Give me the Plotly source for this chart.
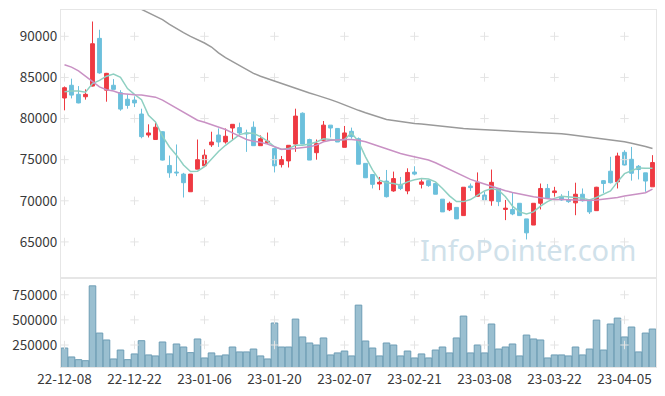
import plotly.graph_objects as go

dates = ["22-12-08","22-12-09","22-12-12","22-12-13","22-12-14","22-12-15","22-12-16","22-12-19","22-12-20","22-12-21",
         "22-12-22","22-12-23","22-12-26","22-12-27","22-12-28","22-12-29","23-01-02","23-01-03","23-01-04","23-01-05",
         "23-01-06","23-01-09","23-01-10","23-01-11","23-01-12","23-01-13","23-01-16","23-01-17","23-01-18","23-01-19",
         "23-01-20","23-01-25","23-01-26","23-01-27","23-01-30","23-01-31","23-02-01","23-02-02","23-02-03","23-02-06",
         "23-02-07","23-02-08","23-02-09","23-02-10","23-02-13","23-02-14","23-02-15","23-02-16","23-02-17","23-02-20",
         "23-02-21","23-02-22","23-02-23","23-02-24","23-02-27","23-02-28","23-03-02","23-03-03","23-03-06","23-03-07",
         "23-03-08","23-03-09","23-03-10","23-03-13","23-03-14","23-03-15","23-03-16","23-03-17","23-03-20","23-03-21",
         "23-03-22","23-03-23","23-03-24","23-03-27","23-03-28","23-03-29","23-03-30","23-03-31","23-04-03","23-04-04",
         "23-04-05","23-04-06","23-04-07","23-04-10","23-04-11"]

open_ = [82500,84050,82950,82650,83950,89750,83450,84050,83150,82350,
         82250,80550,78000,77450,78400,74300,73500,73250,71100,73850,
         74250,76800,78000,77150,78850,78900,78250,78950,76700,77050,
         76350,74400,74850,76900,80650,77450,75850,77350,79200,78800,
         76500,78450,77550,74550,73200,72050,72400,71200,72000,71200,
         73500,72000,72450,72100,70200,68900,69200,68200,71800,70550,
         70700,70000,71500,68950,68950,69700,67800,67050,69700,71500,
         71000,70500,70150,69750,70800,70150,68800,72450,73600,72300,
         75900,75050,74200,73400,71700]
high_ = [83900,84850,83950,83550,91800,90800,85550,84800,83450,82950,
         82700,81200,79300,79550,78450,75500,76850,73400,73250,77450,
         76250,78400,78800,78800,79300,79500,78650,79650,77950,78300,
         76350,75450,76750,81200,80750,77550,77450,79700,79200,78800,
         79100,78900,77700,74550,73200,72900,73750,73550,72900,73950,
         74200,72600,72500,72100,70200,69900,69200,71650,72100,73450,
         71100,73800,71500,70100,71000,69700,67800,69700,72100,72050,
         71700,70800,71200,72200,71500,70150,71700,72500,75350,75850,
         76150,76550,74350,73400,75550]
low_ = [81000,82450,81850,82300,83900,85450,82050,83550,80950,81200,
        81400,77600,77700,77450,74900,72800,73000,70400,71100,73850,
        74250,76550,76550,76950,77350,78050,75950,76700,76700,76950,
        73450,74050,74050,75950,76900,74950,75000,77150,77700,77150,
        76500,77550,74450,72800,71500,71300,70400,71100,71300,70800,
        73100,71500,71700,70800,68650,68750,67800,68200,71200,70550,
        70050,69400,69350,67650,68250,68150,65300,67050,68950,70300,
        69900,70000,69750,68250,69900,68400,68800,70950,72100,71500,
        74300,72450,72600,71100,71700]
close_ = [83750,82850,81900,82950,89100,85550,85500,83550,81150,81600,
          81900,77800,78250,78950,74950,73400,73400,72200,73250,75000,
          75550,77150,77150,77850,79300,78250,78150,76700,77550,77250,
          74250,75000,76750,80300,76900,74950,76950,79200,78850,77150,
          78250,77800,74450,72800,72000,72250,70500,72700,71500,73450,
          73250,72300,71850,70800,68650,69700,67800,71650,71600,72200,
          70100,72250,69900,69100,68400,68200,66100,69700,71500,70350,
          71200,70100,69900,70800,70000,68650,71650,72100,72200,75450,
          74350,73350,73800,72400,74650]

volume = [220000,131000,104000,94000,839000,369000,300000,111000,200000,104000,
          161000,293000,151000,141000,280000,161000,260000,230000,174000,310000,
          121000,171000,141000,151000,230000,181000,181000,210000,141000,111000,
          469000,230000,230000,508000,330000,270000,250000,320000,151000,171000,
          190000,141000,647000,290000,220000,141000,270000,250000,141000,190000,
          121000,161000,121000,200000,230000,171000,320000,538000,171000,250000,
          171000,459000,210000,230000,260000,141000,349000,310000,300000,121000,
          151000,151000,141000,230000,151000,210000,498000,200000,459000,518000,
          330000,429000,181000,369000,409000]

ma5 = [83250,83350,83350,83200,84250,84650,85150,85400,85000,83650,
       82950,82300,80400,79600,77850,76550,75550,74350,73550,73600,
       74150,75050,76000,76750,77450,78050,78250,78200,77800,77250,
       76550,76250,76350,76750,76750,76900,77150,77550,77450,77350,
       77450,78250,77200,75350,73750,72500,72200,72100,71900,72300,
       72550,72700,72650,72300,71500,70600,69900,69900,70150,70700,
       71200,71500,71300,70500,69350,68650,68400,68650,69350,69900,
       70300,70550,70500,70400,70300,70100,70400,70800,71200,72300,
       73300,73650,74000,73950,73950]

ma20 = [86550,86250,85800,85150,84450,83850,83500,83350,83050,82950,
        82900,82850,82750,82600,82250,81750,81350,80800,80300,79800,
        79550,79250,78990,78670,78260,77860,77450,77250,77130,76890,
        76560,76280,76280,76360,76440,76560,76770,77170,77370,77450,
        77450,77450,77370,77170,76890,76560,76280,76080,75750,75550,
        75350,75150,74950,74620,74220,73810,73410,73000,72600,72320,
        72030,71710,71430,71220,71020,70820,70620,70490,70370,70250,
        70170,70170,70130,70090,70090,70050,70090,70170,70290,70410,
        70580,70700,70820,70980,71420]

ma60 = [98000,97600,97200,96800,96400,96000,95500,95000,94500,94100,
        93700,93280,92830,92430,92020,91460,90930,90450,90000,89640,
        89190,88700,87980,87400,86900,86400,85900,85500,85150,84850,
        84550,84250,83950,83650,83350,83100,82850,82600,82300,82000,
        81650,81300,81000,80700,80400,80100,79880,79750,79620,79500,
        79400,79350,79250,79150,79050,78950,78850,78790,78740,78700,
        78650,78610,78590,78550,78510,78470,78430,78390,78330,78270,
        78210,78150,78050,77950,77830,77700,77580,77480,77380,77280,
        77170,77000,76820,76600,76360]

price_ticks = [65000, 70000, 75000, 80000, 85000, 90000]
volume_ticks = [250000, 500000, 750000]
x_ticks = dates[::10]

RED = "#ee3a42"
BLUE = "#6cc0dc"
FRAME = "#e6e6e6"
GRID_MARK = "#e4e4e4"
TICK_COLOR = "#3a3a3a"

fig = go.Figure()

# grid crosses at tick intersections (drawn first, behind the data)
gx, gy = [], []
for xv in x_ticks:
    for yv in price_ticks:
        gx.append(xv); gy.append(yv)
fig.add_trace(go.Scatter(x=gx, y=gy, mode="markers", xaxis="x2", yaxis="y2",
                         marker=dict(symbol="cross-thin", size=6, line=dict(color=GRID_MARK, width=1)),
                         showlegend=False, hoverinfo="skip"))
vx, vy = [], []
for xv in x_ticks:
    for yv in volume_ticks:
        vx.append(xv); vy.append(yv)
fig.add_trace(go.Scatter(x=vx, y=vy, mode="markers", xaxis="x", yaxis="y",
                         marker=dict(symbol="cross-thin", size=6, line=dict(color=GRID_MARK, width=1)),
                         showlegend=False, hoverinfo="skip"))

fig.add_trace(go.Candlestick(
    x=dates, open=open_, high=high_, low=low_, close=close_,
    increasing=dict(line=dict(color=RED, width=1), fillcolor=RED),
    decreasing=dict(line=dict(color=BLUE, width=1), fillcolor=BLUE),
    whiskerwidth=0, xaxis="x2", yaxis="y2", showlegend=False, hoverinfo="skip",
))

fig.add_trace(go.Scatter(x=dates, y=ma5, mode="lines", line=dict(color="#8fd0c2", width=1.5),
                         xaxis="x2", yaxis="y2", showlegend=False, hoverinfo="skip"))
fig.add_trace(go.Scatter(x=dates, y=ma20, mode="lines", line=dict(color="#c991c4", width=1.5),
                         xaxis="x2", yaxis="y2", showlegend=False, hoverinfo="skip"))
fig.add_trace(go.Scatter(x=dates, y=ma60, mode="lines", line=dict(color="#9a9a9a", width=1.5),
                         xaxis="x2", yaxis="y2", showlegend=False, hoverinfo="skip"))

fig.add_trace(go.Bar(x=dates, y=volume, marker=dict(color="rgba(140,182,202,0.88)",
                                                   line=dict(color="#6d9db5", width=1)),
                     xaxis="x", yaxis="y", showlegend=False, hoverinfo="skip"))

font_family = "Noto Sans CJK KR, Noto Sans, sans-serif"

fig.update_layout(
    width=665, height=396,
    margin=dict(l=61, r=9, t=10, b=29, autoexpand=False),
    paper_bgcolor="white", plot_bgcolor="white",
    font=dict(family=font_family, size=13, color=TICK_COLOR),
    bargap=0.06,
    boxgap=0.22,
    xaxis=dict(type="category", categoryorder="array", categoryarray=dates,
               range=[-0.5, 84.5], tickvals=x_ticks, ticktext=x_ticks,
               showgrid=False, zeroline=False, showline=True, linecolor=FRAME, mirror=True,
               ticks="", automargin=False, tickfont=dict(size=13.5, color=TICK_COLOR), domain=[0, 1]),
    xaxis2=dict(type="category", categoryorder="array", categoryarray=dates,
                range=[-0.5, 84.5], matches="x", showticklabels=False,
                showgrid=False, zeroline=False, showline=True, linecolor=FRAME, mirror=True,
                ticks="", automargin=False, rangeslider=dict(visible=False), anchor="y2"),
    yaxis=dict(domain=[0, 0.249], range=[31000, 916000], tickvals=volume_ticks,
               tickformat="d", showgrid=False, zeroline=False, showline=True, linecolor=FRAME,
               mirror=True, ticks="", automargin=False, tickfont=dict(size=13.5, color=TICK_COLOR)),
    yaxis2=dict(domain=[0.249, 1], range=[60600, 93200], tickvals=price_ticks,
                tickformat="d", showgrid=False, zeroline=False, showline=True, linecolor=FRAME,
                mirror=True, ticks="", anchor="x2", automargin=False,
                tickfont=dict(size=13.5, color=TICK_COLOR)),
    annotations=[dict(text="InfoPointer.com", xref="paper", yref="paper", x=0.785, y=0.328,
                      xanchor="center", yanchor="middle", showarrow=False,
                      font=dict(size=29, color="#d0e1ea", family="Noto Sans, sans-serif"))],
)

fig.write_html("out.html",
               config={"displayModeBar": False},
               post_script="document.body.style.margin='0';document.body.style.padding='0';"
                           "document.body.style.overflow='hidden';")
